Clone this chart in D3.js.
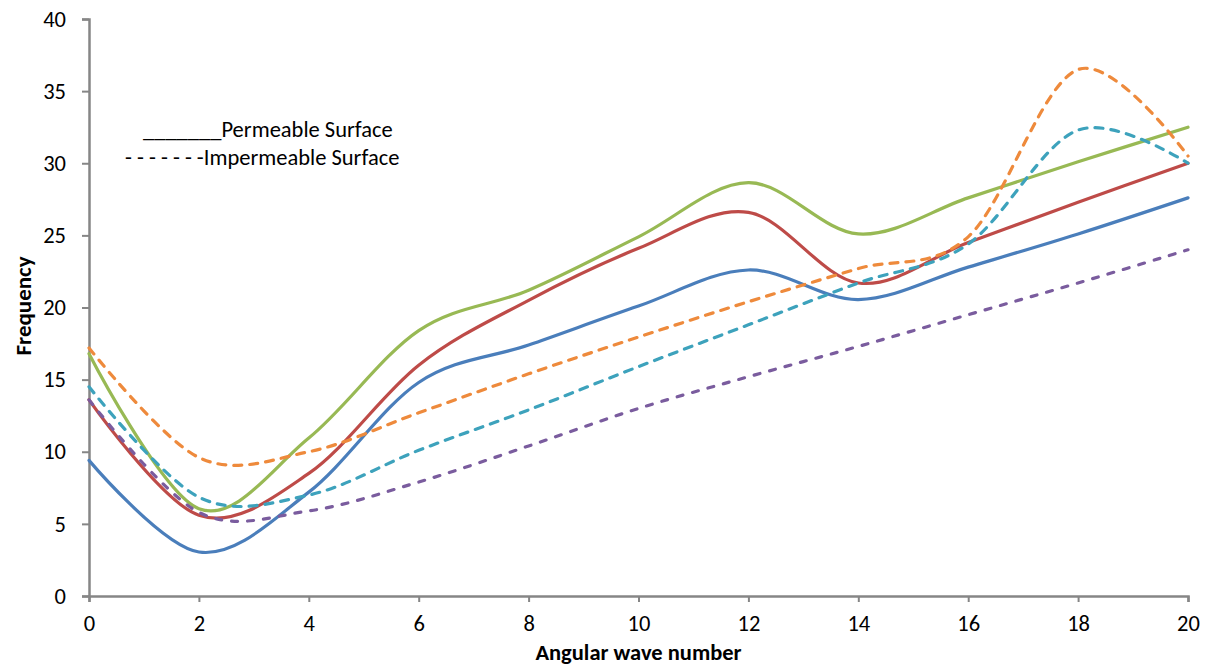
<!DOCTYPE html>
<html>
<head>
<meta charset="utf-8">
<script src="https://cdn.jsdelivr.net/npm/d3@7"></script>
<style>
  body { margin: 0; background: #fff; }
  text { font-family: Calibri, Carlito, "Open Sans", sans-serif; }
</style>
</head>
<body>
<div id="chart"></div>
<script>
var waveNumbers = [0, 2, 4, 6, 8, 10, 12, 14, 16, 18, 20];

// permeable surface (solid)
var bluePerm   = [9.4, 3.05, 7.2, 14.8, 17.4, 20.1, 22.6, 20.55, 22.8, 25.1, 27.6];
var redPerm    = [13.6, 5.6, 8.5, 16.0, 20.5, 24.1, 26.6, 21.7, 24.5, 27.3, 30.0];
var greenPerm  = [16.8, 6.05, 10.95, 18.4, 21.2, 24.9, 28.65, 25.1, 27.6, 30.1, 32.5];

// impermeable surface (dashed)
var orangeImp  = [17.2, 9.6, 10.0, 12.7, 15.4, 17.95, 20.4, 22.7, 24.9, 36.5, 30.5];
var cyanImp    = [14.5, 6.85, 7.0, 10.1, 12.9, 15.9, 18.8, 21.7, 24.4, 32.3, 30.0];
var purpleImp  = [13.6, 5.8, 5.9, 7.9, 10.4, 13.0, 15.2, 17.3, 19.5, 21.7, 24.0];

var xTicks = [0, 2, 4, 6, 8, 10, 12, 14, 16, 18, 20];
var yTicks = [0, 5, 10, 15, 20, 25, 30, 35, 40];

var series = [
  { name: "blue",   values: bluePerm,  color: "#4A7EBB", dash: null },
  { name: "red",    values: redPerm,   color: "#BE4B48", dash: null },
  { name: "green",  values: greenPerm, color: "#98B954", dash: null },
  { name: "orange", values: orangeImp, color: "#EE8A3C", dash: "8,8" },
  { name: "cyan",   values: cyanImp,   color: "#3DA2BC", dash: "8,8" },
  { name: "purple", values: purpleImp, color: "#7A5C9E", dash: "6,10" }
];

var width = 1211, height = 668;
var margin = { left: 89, right: 23, top: 19, bottom: 72 };

var svg = d3.select("#chart").append("svg")
            .attr("width", width)
            .attr("height", height);

var x = d3.scaleLinear().domain([0, 20]).range([margin.left, width - margin.right]);
var y = d3.scaleLinear().domain([0, 40]).range([height - margin.bottom, margin.top]);

var xAxis = svg.append("g")
               .attr("transform", "translate(0," + y(0) + ")")
               .call(d3.axisBottom(x).tickValues(xTicks).tickSize(6).tickPadding(13));

var yAxis = svg.append("g")
               .attr("transform", "translate(" + x(0) + ",0)")
               .call(d3.axisLeft(y).tickValues(yTicks).tickSize(7).tickPadding(16));

[xAxis, yAxis].forEach(function (g) {
  g.attr("font-size", null).attr("font-family", null);
  g.select(".domain").attr("stroke", "#868686").attr("stroke-width", 2.5);
  g.selectAll(".tick line").attr("stroke", "#868686").attr("stroke-width", 2);
  g.selectAll(".tick text")
   .style("font-size", "22.5px")
   .attr("fill", "#000");
});

var line = d3.line()
             .x(function (d, i) { return x(waveNumbers[i]); })
             .y(function (d) { return y(d); })
             .curve(d3.curveCardinal.tension(0));

svg.selectAll("path.series")
   .data(series)
   .enter()
   .append("path")
   .attr("class", "series")
   .attr("d", function (d) { return line(d.values); })
   .attr("fill", "none")
   .attr("stroke", function (d) { return d.color; })
   .attr("stroke-width", 3.2)
   .attr("stroke-linecap", "round")
   .attr("stroke-dasharray", function (d) { return d.dash; });

// legend text
svg.append("text")
   .attr("x", 143).attr("y", 137)
   .style("font-size", "22.5px")
   .text("_______Permeable Surface");

svg.append("text")
   .attr("x", 125).attr("y", 165)
   .style("font-size", "22.5px")
   .text("- - - - - - -Impermeable Surface");

// axis titles
svg.append("text")
   .attr("x", (x(0) + x(20)) / 2).attr("y", 660)
   .attr("text-anchor", "middle")
   .style("font-size", "22.5px")
   .style("font-weight", "bold")
   .text("Angular wave number");

svg.append("text")
   .attr("transform", "translate(31," + 306 + ") rotate(-90)")
   .attr("text-anchor", "middle")
   .style("font-size", "23px")
   .style("font-weight", "bold")
   .text("Frequency");
</script>
</body>
</html>
